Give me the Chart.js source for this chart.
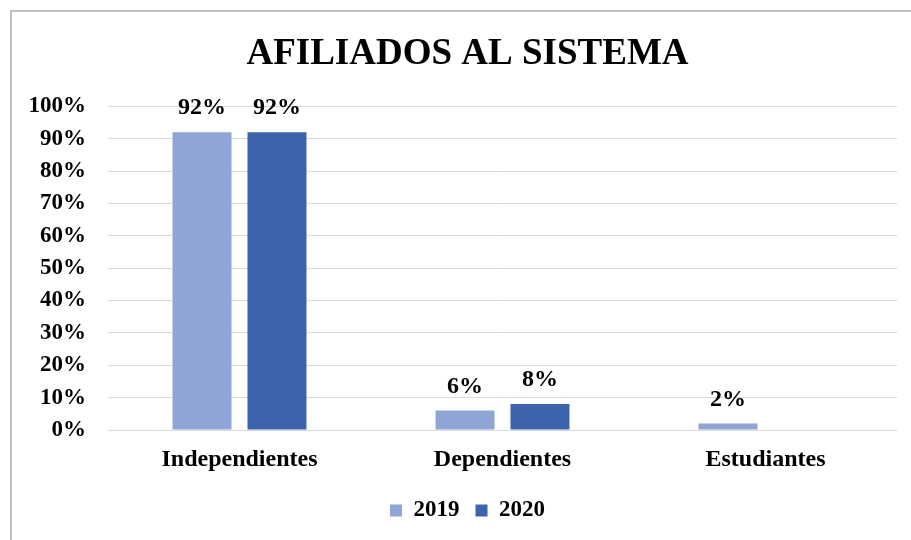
<!DOCTYPE html>
<html lang="es">
<head>
    <meta charset="UTF-8">
    <title>Afiliados al sistema</title>
    <script src="https://cdn.jsdelivr.net/npm/chart.js"></script>
    <style>
        body {
            margin: 0;
            background: #fff;
            overflow: hidden;
        }
        .frame {
            position: absolute;
            left: 10px;
            top: 10px;
            width: 1000px;
            height: 1000px;
            border-left: 2px solid #bfbfbf;
            border-top: 2px solid #bfbfbf;
        }
        #chart {
            position: absolute;
            left: 0;
            top: 0;
        }
    </style>
</head>
<body>
    <div class="frame"></div>
    <canvas id="chart" width="911" height="540"></canvas>

    <script>
        const categories = ['Independientes', 'Dependientes', 'Estudiantes'];
        const values2019 = [92, 6, 2];
        const values2020 = [92, 8, null];
        const seriesNames = ['2019', '2020'];
        const yTicks = [0, 10, 20, 30, 40, 50, 60, 70, 80, 90, 100];

        const serif = '"Liberation Serif", "Times New Roman", serif';

        // etiquetas de valor encima de cada barra
        const valueLabels = {
            id: 'valueLabels',
            afterDatasetsDraw(chart) {
                const ctx = chart.ctx;
                ctx.save();
                ctx.font = 'bold 24px ' + serif;
                ctx.fillStyle = '#000';
                ctx.textAlign = 'center';
                ctx.textBaseline = 'alphabetic';
                chart.data.datasets.forEach((ds, i) => {
                    chart.getDatasetMeta(i).data.forEach((bar, j) => {
                        const v = ds.data[j];
                        if (v === null) return;
                        ctx.fillText(v + '%', bar.x, bar.y - 18);
                    });
                });
                ctx.restore();
            }
        };

        // el eje y es estrecho para centrar titulo y leyenda; se abre a la izquierda para no recortar las etiquetas
        const widenY = {
            id: 'widenY',
            afterLayout(chart) {
                chart.scales.y.left = 0;
            }
        };

        new Chart(document.getElementById('chart'), {
            type: 'bar',
            data: {
                labels: categories,
                datasets: [
                    {
                        label: seriesNames[0],
                        data: values2019,
                        backgroundColor: '#8FA5D5',
                        categoryPercentage: 0.57,
                        barPercentage: 0.787
                    },
                    {
                        label: seriesNames[1],
                        data: values2020,
                        backgroundColor: '#3C64AD',
                        categoryPercentage: 0.57,
                        barPercentage: 0.787
                    }
                ]
            },
            options: {
                responsive: false,
                animation: false,
                layout: {
                    padding: { left: 38, right: 14, top: 0, bottom: 8 }
                },
                plugins: {
                    title: {
                        display: true,
                        text: 'AFILIADOS AL SISTEMA',
                        color: '#000',
                        font: { family: serif, size: 37, weight: 'bold' },
                        padding: { top: 32, bottom: 30 }
                    },
                    legend: {
                        position: 'bottom',
                        labels: {
                            color: '#000',
                            font: { family: serif, size: 23, weight: 'bold' },
                            boxWidth: 12,
                            boxHeight: 12,
                            padding: 16
                        }
                    },
                    tooltip: { enabled: false }
                },
                scales: {
                    x: {
                        grid: { display: false },
                        border: { display: false },
                        afterFit(scale) {
                            scale.height = 53;
                        },
                        ticks: {
                            color: '#000',
                            padding: 7,
                            font: { family: serif, size: 24, weight: 'bold' }
                        }
                    },
                    y: {
                        min: 0,
                        max: 100,
                        afterBuildTicks(scale) {
                            scale.ticks = yTicks.map(v => ({ value: v }));
                        },
                        afterFit(scale) {
                            scale.width = 70;
                        },
                        grid: { color: '#d9d9d9', lineWidth: 1, drawTicks: false },
                        border: { display: false },
                        ticks: {
                            color: '#000',
                            padding: 22,
                            font: { family: serif, size: 23, weight: 'bold' },
                            callback: v => v + '%'
                        }
                    }
                }
            },
            plugins: [valueLabels, widenY]
        });
    </script>
</body>
</html>
